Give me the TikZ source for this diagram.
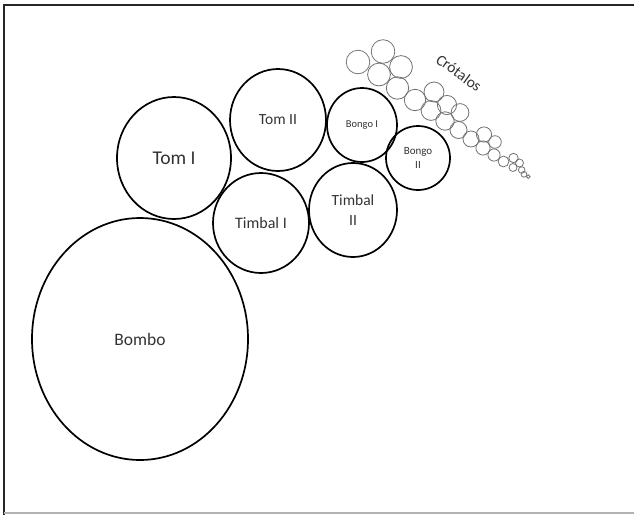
\documentclass[tikz,border=0pt]{standalone}
\usepackage{fontspec}
\setmainfont{Carlito}
\usepackage{tikz}
\usetikzlibrary{shapes.geometric}

\tikzset{
	drum/.style={ellipse, draw=black, line width=1.7pt, inner sep=0pt, text=black!80, align=center},
	cymbal/.style={draw=black!55, line width=0.8pt},
	frameline/.style={line width=1.6pt, draw=black!85}
}

\begin{document}
\begin{tikzpicture}
	[x=1pt, y=-1pt]
	\useasboundingbox (0,0) rectangle (634,515);
	% marco
	\draw[frameline] (4,515) -- (4,5) -- (634,5);
	\draw[line width=1.2pt, draw=black!30] (4,513) -- (634,513);
	% tambores
	\node[drum, minimum width=216pt, minimum height=242pt, font=\fontsize{17.5}{20}\selectfont] (bombo) at (140,339) {Bombo};
	\node[drum, minimum width=114pt, minimum height=122pt, font=\fontsize{19.5}{22}\selectfont] (tomI) at (174,158) {Tom I};
	\node[drum, minimum width=96pt, minimum height=102pt, font=\fontsize{15.5}{18}\selectfont] (tomII) at (278,120) {Tom II};
	\node[drum, minimum width=70pt, minimum height=74pt, font=\fontsize{10.5}{12}\selectfont] (bongoI) at (362,125) {Bongo I};
	\node[drum, minimum width=64pt, minimum height=64pt, font=\fontsize{11}{13.5}\selectfont] (bongoII) at (418,158) {Bongo\\II};
	\node[drum, minimum width=96pt, minimum height=100pt, font=\fontsize{16}{18}\selectfont] (timbalI) at (261,223) {Timbal I};
	\node[drum, minimum width=88pt, minimum height=94pt, font=\fontsize{15.5}{20}\selectfont] (timbalII) at (353,210) {Timbal\\II};
	% crotalos
	\foreach \cx/\cy/\cr in {358/62/11.8, 383/51.5/11.8, 401/67/11.4, 379/74.5/11.4, 397.5/88/11.2,
		415/100/10.7, 434/92/10, 447/105/9.6, 431/110.5/9.9, 460/112.5/8.9, 445/121/9.2,
		458.5/130/8.5, 471/139/8, 484/134.5/7.6, 495/142/6.3, 483/148/7.1, 494/155/6.1,
		503.5/161.5/5.4, 513.5/158/4.7, 519.5/163/4, 513/167.5/4, 521.7/170/3.3,
		524/174.3/2.9, 528.3/176.7/1.9}
		\draw[cymbal] (\cx,\cy) circle[radius=\cr pt];
	\node[rotate=-36, text=black!80, font=\fontsize{15.5}{18}\selectfont] (crotalos) at (459,73) {Crótalos};
\end{tikzpicture}
\end{document}
